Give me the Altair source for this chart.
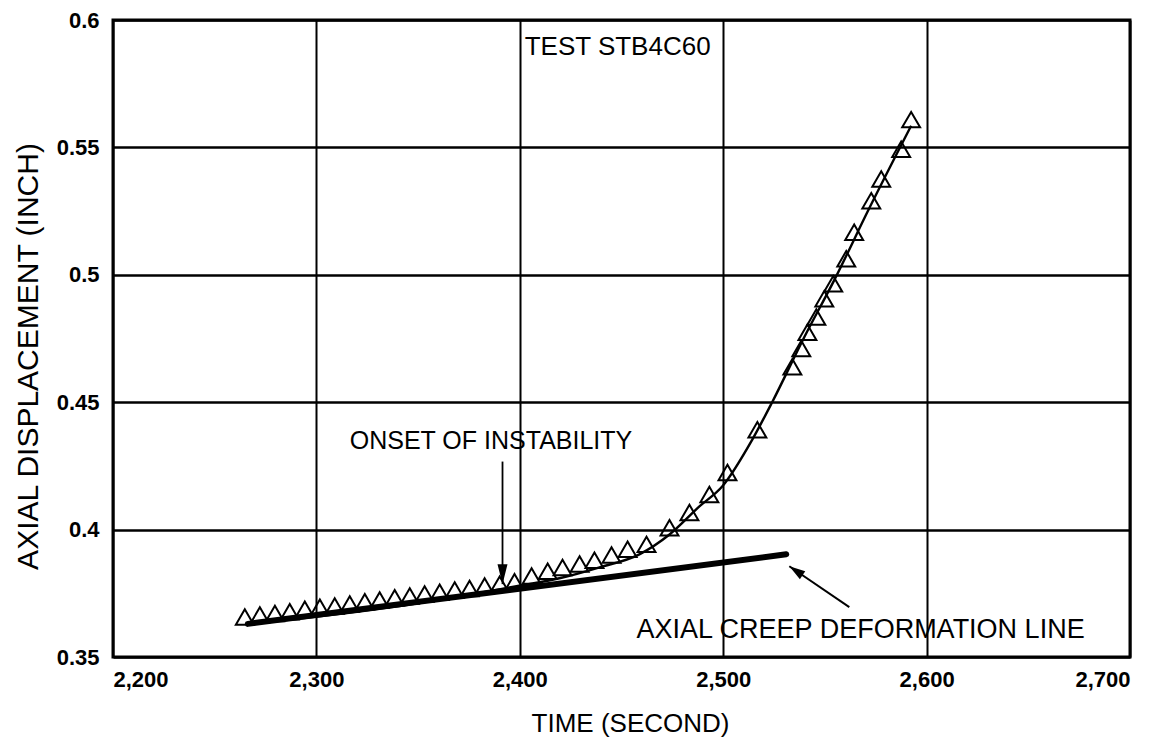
import altair as alt
import pandas as pd

# ---- data ----
time_s = [2264.8, 2272.2, 2279.6, 2286.9, 2294.3, 2301.7, 2309.0, 2316.4, 2323.8, 2331.1,
          2338.5, 2345.9, 2353.2, 2360.6, 2368.0, 2375.3, 2382.7, 2390.1, 2397.4, 2405.8,
          2413.7, 2421.0, 2429.4, 2436.7, 2445.1, 2453.0, 2462.3, 2473.6, 2483.4, 2493.2,
          2502.1, 2516.8, 2534.0, 2538.4, 2541.4, 2545.8, 2549.7, 2554.1, 2560.5, 2564.4,
          2572.8, 2577.7, 2587.5, 2592.4]
disp = [0.3657, 0.3665, 0.3671, 0.3678, 0.3687, 0.3695, 0.3700, 0.3708, 0.3717, 0.3724,
        0.3733, 0.3739, 0.3747, 0.3754, 0.3763, 0.3769, 0.3779, 0.3786, 0.3795, 0.3818,
        0.3837, 0.3851, 0.3865, 0.3880, 0.3900, 0.3923, 0.3942, 0.4007, 0.4067, 0.4138,
        0.4224, 0.4392, 0.4639, 0.4711, 0.4775, 0.4834, 0.4906, 0.4965, 0.5063, 0.5167,
        0.5291, 0.5376, 0.5493, 0.5609]

fit_t = [2266.3, 2341.0, 2398.4, 2420.0, 2439.2, 2458.8, 2473.6, 2488.3, 2499.6, 2514.3,
         2524.2, 2539.9, 2554.6, 2571.8, 2592.4]
fit_y = [0.3629, 0.3700, 0.3778, 0.3810, 0.3852, 0.3903, 0.3981, 0.4091, 0.4170, 0.4353,
         0.4502, 0.4756, 0.4979, 0.5261, 0.5585]

creep_t = [2266.3, 2531.0]
creep_y = [0.3630, 0.3903]

label_text = ["TEST STB4C60", "ONSET OF INSTABILITY", "AXIAL CREEP DEFORMATION LINE"]
label_t = [2402.4, 2316.4, 2457.4]
label_y = [0.5895, 0.4349, 0.3606]
label_size = [26, 25, 27]

onset_t = [2391.5]
onset_top = [0.4267]
onset_tip = [0.3786]

creep_arrow_tail_t = [2562.0]
creep_arrow_tail_y = [0.3696]
creep_arrow_tip_t = [2532.5]
creep_arrow_tip_y = [0.3856]

x_ticks = [2200, 2300, 2400, 2500, 2600, 2700]
y_ticks = [0.35, 0.4, 0.45, 0.5, 0.55, 0.6]

FONT = "Liberation Sans"

pts = pd.DataFrame({"t": time_s, "d": disp})
fit = pd.DataFrame({"t": fit_t, "d": fit_y})
creep = pd.DataFrame({"t": creep_t, "d": creep_y})
labels = pd.DataFrame({"txt": label_text, "t": label_t, "d": label_y, "s": label_size})
onset = pd.DataFrame({"t": onset_t, "d": onset_top, "t2": onset_t, "d2": onset_tip})
carrow = pd.DataFrame({"t": creep_arrow_tail_t, "d": creep_arrow_tail_y,
                       "t2": creep_arrow_tip_t, "d2": creep_arrow_tip_y})

xscale = alt.Scale(domain=[2200, 2700], nice=False, zero=False)
yscale = alt.Scale(domain=[0.35, 0.6], nice=False, zero=False)

xax = alt.Axis(values=x_ticks, format=",d", title="TIME (SECOND)", grid=True,
               gridColor="black", gridWidth=2, gridOpacity=1, ticks=False, domain=False,
               labelFont=FONT, labelFontSize=22, labelFontWeight="bold", labelColor="black",
               labelPadding=12,
               titleFont=FONT, titleFontSize=26, titleFontWeight="normal", titleColor="black",
               titleX=517, titleY=66, titleBaseline="middle", titleAlign="center")
yax = alt.Axis(values=y_ticks, format=".2~f", title="AXIAL DISPLACEMENT (INCH)", grid=True,
               gridColor="black", gridWidth=2.6, gridOpacity=1, ticks=False, domain=False,
               labelFont=FONT, labelFontSize=22, labelFontWeight="bold", labelColor="black",
               labelPadding=14,
               titleFont=FONT, titleFontSize=30, titleFontWeight="normal", titleColor="black",
               titleX=-85, titleY=336, titleBaseline="middle", titleAlign="center")

base_x = alt.X("t:Q", scale=xscale, axis=xax)
base_y = alt.Y("d:Q", scale=yscale, axis=yax)

fit_line = alt.Chart(fit).mark_line(color="black", strokeWidth=2.4, interpolate="monotone").encode(
    x=base_x, y=base_y)

creep_line = alt.Chart(creep).mark_line(color="black", strokeWidth=6, strokeCap="round").encode(
    x=alt.X("t:Q", scale=xscale), y=alt.Y("d:Q", scale=yscale))

tri = alt.Chart(pts).mark_point(shape="triangle-up", filled=False, color="black",
                                strokeWidth=2, size=320, opacity=1).encode(
    x=alt.X("t:Q", scale=xscale), y=alt.Y("d:Q", scale=yscale))

txt = alt.Chart(labels).mark_text(align="left", baseline="middle", font=FONT,
                                  color="black").encode(
    x=alt.X("t:Q", scale=xscale), y=alt.Y("d:Q", scale=yscale), text="txt:N",
    size=alt.Size("s:Q", scale=None, legend=None))

onset_rule = alt.Chart(onset).mark_rule(color="black", strokeWidth=1.8).encode(
    x=alt.X("t:Q", scale=xscale), y=alt.Y("d:Q", scale=yscale),
    x2="t2:Q", y2="d2:Q")
onset_head = alt.Chart(onset).mark_point(shape="M0,0 L-0.5,-2 L0.5,-2 Z", filled=True,
                                         color="black", size=400, opacity=1).encode(
    x=alt.X("t2:Q", scale=xscale), y=alt.Y("d2:Q", scale=yscale))

carrow_rule = alt.Chart(carrow).mark_rule(color="black", strokeWidth=2).encode(
    x=alt.X("t:Q", scale=xscale), y=alt.Y("d:Q", scale=yscale),
    x2="t2:Q", y2="d2:Q")
carrow_head = alt.Chart(carrow).mark_point(shape="M0,0 L-0.6,2 L0.6,2 Z", filled=True,
                                           color="black", size=256, opacity=1,
                                           angle=304).encode(
    x=alt.X("t2:Q", scale=xscale), y=alt.Y("d2:Q", scale=yscale))

chart = alt.layer(fit_line, creep_line, tri, onset_rule, onset_head, carrow_rule, carrow_head, txt
                  ).properties(
    width=1017, height=637,
    autosize=alt.AutoSizeParams(type="none"),
    padding={"left": 105, "top": 12, "right": 25, "bottom": 80},
    background="white",
).configure_view(stroke="black", strokeWidth=3)

chart.save("out.html", embed_options={"renderer": "svg", "actions": False})
